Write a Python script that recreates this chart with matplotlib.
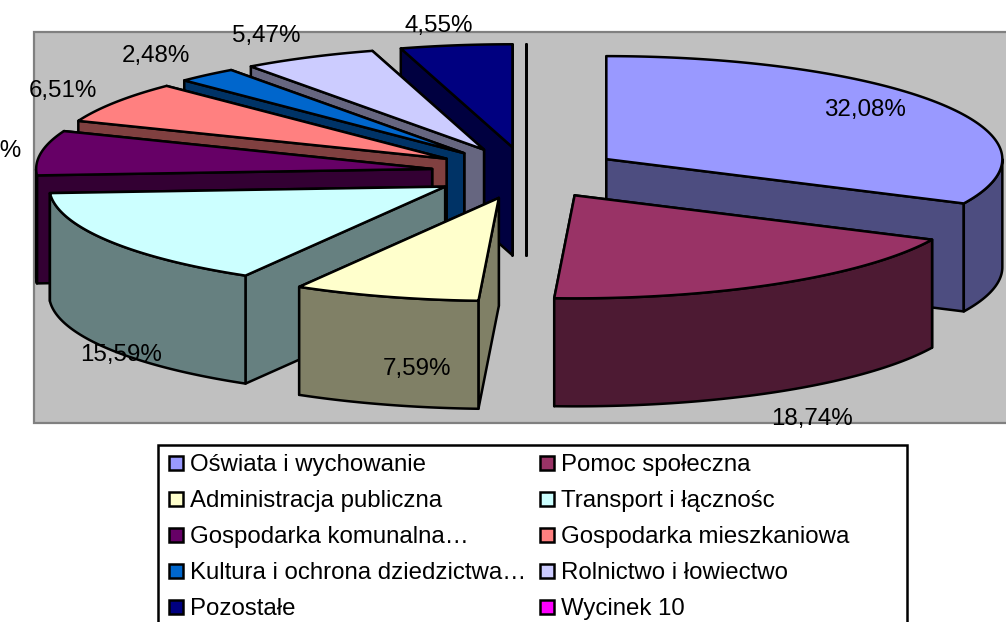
import matplotlib
matplotlib.use("Agg")
import matplotlib.pyplot as plt
from matplotlib.patches import Polygon, Rectangle
from matplotlib.colors import to_rgb
import numpy as np

plt.rcParams["font.family"] = ["Liberation Sans", "DejaVu Sans"]

categories = ["Oświata i wychowanie", "Pomoc społeczna", "Administracja publiczna",
              "Transport i łącznośc", "Gospodarka komunalna…", "Gospodarka mieszkaniowa",
              "Kultura i ochrona dziedzictwa…", "Rolnictwo i łowiectwo", "Pozostałe", "Wycinek 10"]
values = [32.08, 18.74, 7.59, 15.59, 6.99, 6.51, 2.48, 5.47, 4.55, 0.0]
colors = ["#9999FF", "#993366", "#FFFFCC", "#CCFFFF", "#660066",
          "#FF8080", "#0066CC", "#CCCCFF", "#000080", "#FF00FF"]

# pixel positions of the percent labels, same order as values
label_pos = [(865, 110), (812, 419), (417, 369), (121, 355), (-12, 151),
             (63, 91), (156, 56), (266, 36), (439, 26)]

# pie geometry in pixels
cx, cy = 526, 173
rx, ry = 396, 103
ex, ey = 95, 26
depth = 108
lw = 1.8


def rim(ax0, ay0, angles):
    t = np.radians(angles)
    return np.column_stack([ax0 + rx * np.sin(t), ay0 - ry * np.cos(t)])


def dark(c):
    return tuple(v * 0.5 for v in to_rgb(c))


fig = plt.figure(figsize=(10.06, 6.22), dpi=100)
ax = fig.add_axes([0, 0, 1, 1])
ax.set_xlim(0, 1006)
ax.set_ylim(622, 0)
ax.axis("off")

ax.add_patch(Rectangle((34, 32), 1000, 391, facecolor="#C0C0C0", edgecolor="#808080", linewidth=1.6))

ends = np.cumsum(values) / np.sum(values) * 360
starts = np.concatenate([[0], ends[:-1]])
mids = (starts + ends) / 2

# back slices first
for i in np.argsort(-np.cos(np.radians(mids))):
    a1, a2, m = starts[i], ends[i], mids[i]
    px = cx + ex * np.sin(np.radians(m))
    py = cy - ey * np.cos(np.radians(m))
    side = dark(colors[i])

    # radial faces, the nearer one last
    for a in sorted([a1, a2], key=lambda v: -np.cos(np.radians(v))):
        o = rim(px, py, [a])[0]
        ax.add_patch(Polygon([(px, py), o, (o[0], o[1] + depth), (px, py + depth)],
                             closed=True, facecolor=side, edgecolor="black", linewidth=lw, joinstyle="round"))

    # outer wall, only the front half of the rim shows
    w1, w2 = max(a1, 90), min(a2, 270)
    if w2 > w1:
        arc = rim(px, py, np.linspace(w1, w2, 80))
        low = arc[::-1] + [0, depth]
        ax.add_patch(Polygon(np.vstack([arc, low]), closed=True, facecolor=side,
                             edgecolor="black", linewidth=lw, joinstyle="round"))

    # top
    arc = rim(px, py, np.linspace(a1, a2, 120))
    ax.add_patch(Polygon(np.vstack([[(px, py)], arc]), closed=True, facecolor=colors[i],
                         edgecolor="black", linewidth=lw, joinstyle="round"))

for v, (x, y) in zip(values, label_pos):
    ax.text(x, y, f"{v:.2f}%".replace(".", ","), fontsize=17.4, ha="center", va="center",
            color="black", zorder=10)

# legend
ax.add_patch(Rectangle((158, 445), 749, 300, facecolor="white", edgecolor="black", linewidth=lw, zorder=11))
row_y = [463, 499, 535, 571, 607]
col_x = [168, 539]
for i, name in enumerate(categories):
    x = col_x[i % 2]
    y = row_y[i // 2]
    ax.add_patch(Rectangle((x + 1, y - 7), 14, 14, facecolor=colors[i], edgecolor="black", linewidth=lw, zorder=12))
    ax.text(x + 22, y + 2, name, fontsize=17.3, ha="left", va="center", color="black", zorder=12)

fig.savefig("out.png", dpi=100)
